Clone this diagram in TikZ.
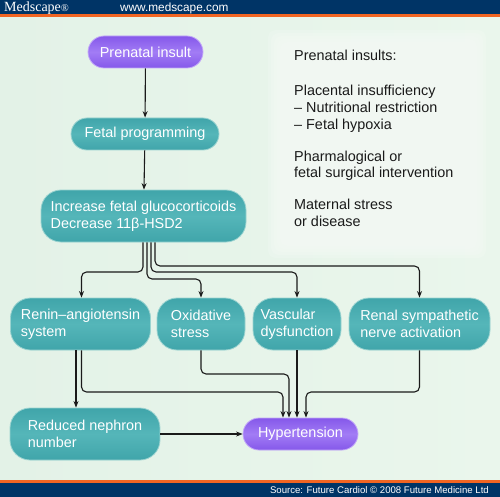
\documentclass[tikz,border=0pt]{standalone}
\usepackage{fontspec}
\setmainfont{Liberation Sans}
\newfontfamily\headserif{Liberation Serif}
\usetikzlibrary{arrows.meta}
\definecolor{navy}{HTML}{003466}
\definecolor{orng}{HTML}{F26522}
\definecolor{bgl}{HTML}{E3F2E7}
\definecolor{bgr}{HTML}{EAF6EC}
\definecolor{panel}{HTML}{F4FAF5}
\definecolor{tealA}{HTML}{40A5AA}
\definecolor{tealB}{HTML}{55B6B9}
\definecolor{tealE}{HTML}{9AD3D0}
\definecolor{purA}{HTML}{8558EA}
\definecolor{purB}{HTML}{A27CF5}
\definecolor{purE}{HTML}{C2A8F8}
\definecolor{ink}{HTML}{1A1A1A}
\tikzset{
  boxfont/.style={font=\fontsize{14.4}{17}\selectfont},
  tealbox/.style={boxfont, text=white, align=left, rounded corners=20pt,
    top color=tealA, bottom color=tealA, middle color=tealB,
    draw=tealE, line width=0.8pt, inner sep=0pt, minimum height=52pt},
  tealpill/.style={tealbox, rounded corners=16pt, minimum height=32pt},
  purpill/.style={boxfont, text=white, rounded corners=16pt,
    top color=purA, bottom color=purA, middle color=purB,
    draw=purE, line width=0.8pt, inner sep=0pt, minimum height=32pt},
  sidetext/.style={font=\fontsize{14.4}{17}\selectfont, text=ink, anchor=base west, inner sep=0pt},
  conn/.style={draw=ink, line width=1.1pt, rounded corners=5pt,
    -{Stealth[length=6.5pt,width=5pt]}},
  softpanel/.style={fill=panel, opacity=0.3},
}
\begin{document}
\begin{tikzpicture}[x=1pt,y=-1pt]
\useasboundingbox (0,0) rectangle (500,497);
% background
\shade[left color=bgl, right color=bgr] (0,0) rectangle (500,497);
\foreach \d in {0,3,6,9,12}{
  \fill[softpanel, rounded corners=8pt] (268+\d,30+\d) rectangle (486-\d,258-\d);
}
% header / footer
\fill[navy] (0,0) rectangle (500,14.5);
\fill[orng] (0,14.5) rectangle (500,17);
\fill[orng] (0,480) rectangle (500,482.5);
\fill[navy] (0,482.5) rectangle (500,497);
\node[anchor=base west, inner sep=0pt, text=white, font=\headserif\fontsize{14}{14}\selectfont] (logo) at (4,12) {Medscape\raisebox{0.3pt}{\fontsize{10.5}{10}\selectfont\textregistered}};
\node[anchor=base west, inner sep=0pt, text=white, font=\fontsize{11.8}{12}\selectfont] (url) at (120,11.5) {www.medscape.com};
\node[anchor=base east, inner sep=0pt, text=white, font=\fontsize{9.6}{10}\selectfont] (src) at (489,493) {Source: Future Cardiol \textcopyright\ 2008 Future Medicine Ltd};
% nodes
\node[purpill, minimum width=115pt] (pre) at (145.5,52) {Prenatal insult};
\node[tealpill, minimum width=148pt] (fet) at (145,134) {Fetal programming};
\node[tealbox, minimum width=205pt] (inc) at (143.5,216) {Increase fetal glucocorticoids\\Decrease 11β-HSD2};
\node[tealbox, minimum width=140pt] (ren) at (80.5,324) {Renin--angiotensin\\system};
\node[tealbox, minimum width=88pt] (oxi) at (201,324) {Oxidative\\stress};
\node[tealbox, minimum width=88pt] (vas) at (297,324) {Vascular\\dysfunction};
\node[tealbox, minimum width=141pt] (rsn) at (419.5,324) {Renal sympathetic\\nerve activation};
\node[tealbox, minimum width=150pt] (red) at (85,434) {Reduced nephron\\number};
\node[purpill, minimum width=115pt] (hyp) at (300.5,434) {Hypertension};
% side text
\node[sidetext] (t1) at (294,61) {Prenatal insults:};
\node[sidetext] (t2) at (294,96) {Placental insufficiency};
\node[sidetext] (t3) at (294,113) {-- Nutritional restriction};
\node[sidetext] (t4) at (294,130) {-- Fetal hypoxia};
\node[sidetext] (t5) at (294,161) {Pharmalogical or};
\node[sidetext] (t6) at (294,178) {fetal surgical intervention};
\node[sidetext] (t7) at (294,209) {Maternal stress};
\node[sidetext] (t8) at (294,226) {or disease};
% connectors
\draw[conn] (pre) -- (fet);
\draw[conn] (fet) -- (inc);
\coordinate (s1) at ([xshift=-0.5pt]inc.south);
\coordinate (s2) at ([xshift=3.5pt]inc.south);
\coordinate (s3) at ([xshift=7.5pt]inc.south);
\coordinate (s4) at ([xshift=11.5pt]inc.south);
\draw[conn] (s1) -- (s1 |- 0,272) -| ([xshift=1pt]ren.north);
\draw[conn] (s2) -- (s2 |- 0,279) -| (oxi.north);
\draw[conn] (s3) -- (s3 |- 0,272) -| (vas.north);
\draw[conn] (s4) -- (s4 |- 0,266) -| (rsn.north);
\coordinate (r1) at ([xshift=-4.5pt]ren.south);
\coordinate (r2) at ([xshift=1pt]ren.south);
\draw[conn] (r1) -- (r1 |- red.north);
\draw[conn] (r2) -- (r2 |- 0,392) -| ([xshift=-17.5pt]hyp.north);
\draw[conn] (oxi.south) -- (oxi.south |- 0,374) -| ([xshift=-11.5pt]hyp.north);
\draw[conn] (vas.south) -- (vas.south |- hyp.north);
\draw[conn] (rsn.south) -- (rsn.south |- 0,392) -| ([xshift=5.5pt]hyp.north);
\draw[conn] (red.east) -- (hyp.west);
\end{tikzpicture}
\end{document}
